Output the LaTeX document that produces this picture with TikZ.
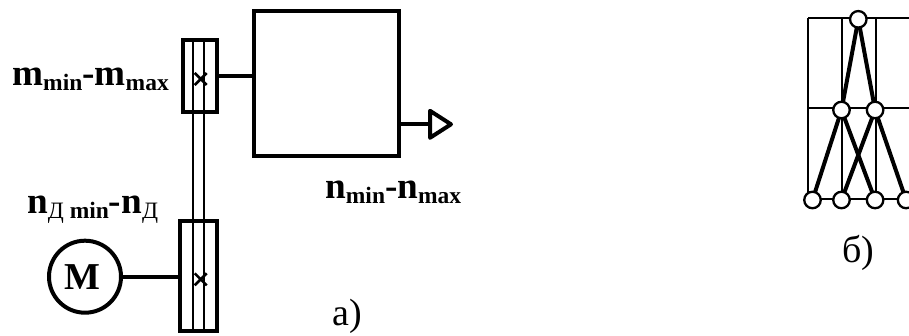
\documentclass[tikz,border=0pt]{standalone}
\usepackage{fontspec}
\setmainfont{Liberation Serif}
\usetikzlibrary{positioning, shapes.geometric, shapes.misc, backgrounds}
\newcommand{\lowtxt}[1]{\raisebox{-5pt}{\fontsize{23.5}{24}\selectfont #1}}
\begin{document}
\begin{tikzpicture}[
  x=1pt, y=-1pt,
  thick line/.style={line width=4pt},
  thin line/.style={line width=1.8pt},
  gearbox/.style={draw, rectangle, line width=4pt, inner sep=0pt, outer sep=0pt, minimum width=34pt},
  shaftmark/.style={draw, cross out, line width=2.6pt, inner sep=0pt, minimum size=12pt, outer sep=0pt},
  knot/.style={draw, circle, fill=white, line width=2.3pt, inner sep=0pt, minimum size=16.5pt, outer sep=0pt},
  label/.style={inner sep=0pt, anchor=base west, font=\fontsize{37.2}{38}\selectfont\bfseries},
  caption/.style={inner sep=0pt, anchor=base, font=\fontsize{38}{38}\selectfont}
]
  \useasboundingbox (0,0) rectangle (909,336);

  % a)
  \node (boxtop) [gearbox, minimum height=72pt] at (200,76) {};
  \node (boxlow) [gearbox, minimum width=37pt, minimum height=110pt] at (198.7,276.3) {};
  \node (plant) [draw, rectangle, thick line, inner sep=0pt, outer sep=0pt,
    minimum width=145pt, minimum height=144.5pt] at (326.8,83.3) {};
  \node (motor) [draw, circle, thick line, inner sep=0pt, outer sep=0pt, minimum size=72pt] at (85,276.7) {};
  \node (motortxt) [inner sep=0pt, font=\fontsize{38}{38}\selectfont\bfseries] at (82,277) {M};
  \node (out) [draw, isosceles triangle, isosceles triangle stretches, thick line, line join=round,
    inner sep=0pt, outer sep=0pt, minimum height=21pt, minimum width=27pt, anchor=lower side] at (430,124.3) {};
  \node (marktop) [shaftmark] at (200.7,79) {};
  \node (marklow) [shaftmark] at (200.7,279.3) {};

  \coordinate (railAtop) at (192.7,40);
  \coordinate (railAlow) at (192.7,331);
  \coordinate (railBtop) at (204.3,40);
  \coordinate (railBlow) at (204.3,331);

  \draw[thin line] (railAtop) -- (railAlow);
  \draw[thin line] (railBtop) -- (railBlow);
  \draw[thick line] (boxtop.east) -- (boxtop.east -| plant.west);
  \draw[thick line] (plant.east |- out.lower side) -- (out.lower side);
  \draw[thick line] (motor.east) -- (motor.east -| boxlow.west);

  \node (mrange) [label] at (12,86) {m\lowtxt{min}-m\lowtxt{max}};
  \node (ndrange) [label] at (27,214) {n\lowtxt{\mdseries Д \bfseries min}-n\lowtxt{\mdseries Д}};
  \node (nrange) [label] at (325,199) {n\lowtxt{min}-n\lowtxt{max}};
  \node (capa) [caption] at (347,325) {а)};

  % б)
  \begin{scope}[node distance=90.7pt and 16.8pt, on grid]
    \node (top) [knot] at (858.3,19.3) {};
    \node (midL) [knot, below left=of top] {};
    \node (midR) [knot, below right=of top] {};
  \end{scope}
  \begin{scope}[node distance=90pt and 29pt, on grid]
    \node (botA) [knot, below left=of midL] {};
    \node (botB) [knot, below=of midL] {};
    \node (botC) [knot, below=of midR] {};
    \node (botD) [knot, below right=90pt and 31pt of midR] {};
  \end{scope}
  \node (capb) [caption] at (858,263) {б)};

  \begin{scope}[on background layer]
    \coordinate (gridNW) at (808.3,18);
    \coordinate (gridNa) at (841.7,18);
    \coordinate (gridNb) at (875.7,18);
    \coordinate (gridNE) at (909,18);
    \coordinate (gridW) at (808.3,108.3);
    \coordinate (gridE) at (909,108.3);
    \coordinate (gridSW) at (808.3,199.3);
    \coordinate (gridSa) at (841.7,199.3);
    \coordinate (gridSb) at (875.7,199.3);
    \coordinate (gridSE) at (909,199.3);
    \draw[thin line] (gridNW) -- (gridNE);
    \draw[thin line] (gridW) -- (gridE);
    \draw[thin line] (gridSW) -- (gridSE);
    \draw[thin line] (gridNW) -- (gridSW);
    \draw[thin line] (gridNa) -- (gridSa);
    \draw[thin line] (gridNb) -- (gridSb);
  \end{scope}

  \draw[thick line] (top) -- (midL);
  \draw[thick line] (top) -- (midR);
  \draw[thick line] (midL) -- (botA);
  \draw[thick line] (midL) -- (botC);
  \draw[thick line] (midR) -- (botB);
  \draw[thick line] (midR) -- (botD);
\end{tikzpicture}
\end{document}
